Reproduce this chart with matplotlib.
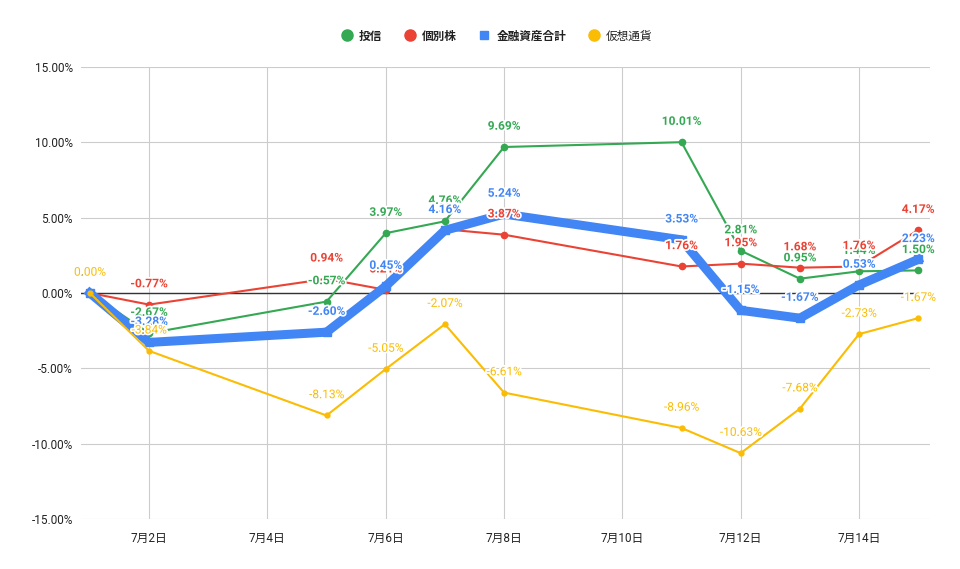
import matplotlib
matplotlib.use("Agg")
import matplotlib.pyplot as plt
import matplotlib.patheffects as pe
from matplotlib.lines import Line2D
import numpy as np

plt.rcParams['font.family'] = ['Roboto', 'Noto Sans CJK JP', 'DejaVu Sans']

days = [1, 2, 5, 6, 7, 8, 11, 12, 13, 14, 15]
toushin = [0.00, -2.67, -0.57, 3.97, 4.76, 9.69, 10.01, 2.81, 0.95, 1.44, 1.50]
kobetsu = [0.00, -0.77, 0.94, 0.21, 4.23, 3.87, 1.76, 1.95, 1.68, 1.76, 4.17]
goukei = [0.00, -3.28, -2.60, 0.45, 4.16, 5.24, 3.53, -1.15, -1.67, 0.53, 2.23]
kasou = [0.00, -3.84, -8.13, -5.05, -2.07, -6.61, -8.96, -10.63, -7.68, -2.73, -1.67]

names = ['投信', '個別株', '金融資産合計', '仮想通貨']
colors = ['#34A853', '#EA4335', '#4285F4', '#FBBC04']
tick_days = [2, 4, 6, 8, 10, 12, 14]
tick_labels = ['7月2日', '7月4日', '7月6日', '7月8日', '7月10日', '7月12日', '7月14日']
yticks = [-15, -10, -5, 0, 5, 10, 15]

fig = plt.figure(figsize=(9.6, 5.69), dpi=100)
ax = fig.add_axes([81/960, 50/569, 849/960, 452/569])

series = [toushin, kobetsu, goukei, kasou]
styles = [
    dict(lw=1.5, marker='o', ms=4.5, zorder=3),
    dict(lw=1.5, marker='o', ms=4.5, zorder=3),
    dict(lw=6.5, marker='s', ms=6, zorder=4),
    dict(lw=1.5, marker='o', ms=3.5, zorder=5),
]
for vals, c, st in zip(series, colors, styles):
    ax.plot(days, vals, color=c, solid_joinstyle='miter', **st)

weights = ['bold', 'bold', 'bold', 'normal']
halo = [pe.withStroke(linewidth=2.5, foreground='white')]
for vals, c, w in zip(series, colors, weights):
    for d, v in zip(days, vals):
        ax.annotate(f'{v:.2f}%', (d, v), xytext=(0, 15), textcoords='offset points',
                    ha='center', va='center', fontsize=8.6, color=c, fontweight=w,
                    path_effects=halo, zorder=10)

ax.set_xlim(0.85, 15.2)
ax.set_ylim(-15, 15)
ax.set_xticks(tick_days)
ax.set_xticklabels(tick_labels)
ax.set_yticks(yticks)
ax.set_yticklabels([f'{y:.2f}%' for y in yticks])
ax.tick_params(length=0, labelsize=8.5, colors='#222222')
ax.tick_params(axis='x', pad=9)
ax.tick_params(axis='y', pad=6)
ax.grid(True, color='#cccccc', lw=0.8)
ax.set_axisbelow(True)
ax.axhline(0, color='#333333', lw=1, zorder=2)
for s in ax.spines.values():
    s.set_visible(False)

handles = []
for n, c, m in zip(names, colors, ['o', 'o', 's', 'o']):
    handles.append(Line2D([], [], ls='none', marker=m, color=c,
                          ms=8 if m == 'o' else 6, label=n))
leg = fig.legend(handles=handles, loc='center', bbox_to_anchor=(0.516, 1 - 36/569),
                 ncol=4, frameon=False, fontsize=8.4, handletextpad=0.3,
                 columnspacing=1.6, handlelength=1.5)
for t, w in zip(leg.get_texts(), weights):
    t.set_fontweight(w)
    t.set_color('#222222')

fig.savefig('out.png', dpi=100)
